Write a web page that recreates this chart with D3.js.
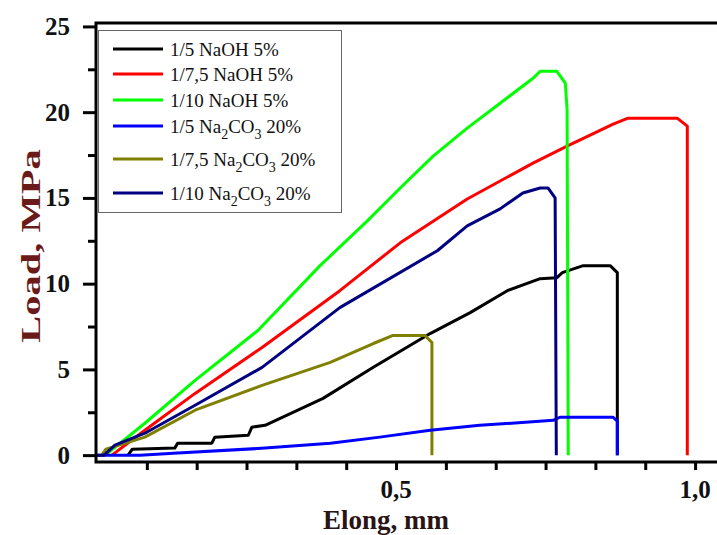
<!DOCTYPE html>
<html>
<head>
<meta charset="utf-8">
<script src="https://cdn.jsdelivr.net/npm/d3@7"></script>
<style>
  body { margin: 0; background: #fff; }
  svg text { font-family: "Liberation Serif", "Times New Roman", serif; }
</style>
</head>
<body>
<svg id="chart" width="717" height="535"></svg>
<script>

// series names (legend order) and colours
var seriesNames  = ["1/5 NaOH 5%", "1/7,5 NaOH 5%", "1/10 NaOH 5%",
		    "1/5 Na2CO3 20%", "1/7,5 Na2CO3 20%", "1/10 Na2CO3 20%"];
var seriesColors = ["#000000", "#ff0000", "#00ff00", "#0000ff", "#808000", "#000080"];

// elongation (mm) / load (MPa)
var naoh5_x  = [0.052, 0.059, 0.130, 0.135, 0.192, 0.197, 0.253, 0.259, 0.281, 0.378, 0.462, 0.557, 0.624, 0.686, 0.741, 0.769, 0.778, 0.813, 0.858, 0.870, 0.870];
var naoh5_y  = [0.00, 0.35, 0.41, 0.70, 0.70, 1.05, 1.16, 1.63, 1.74, 3.31, 5.12, 7.09, 8.31, 9.59, 10.29, 10.35, 10.64, 11.05, 11.05, 10.64, 0.00];

var naoh75_x = [0.025, 0.080, 0.164, 0.276, 0.406, 0.507, 0.619, 0.729, 0.786, 0.863, 0.888, 0.970, 0.987, 0.987];
var naoh75_y = [0.00, 1.45, 3.60, 6.28, 9.59, 12.38, 14.94, 17.03, 18.02, 19.30, 19.65, 19.65, 19.19, 0.00];

var naoh10_x = [0.012, 0.018, 0.080, 0.164, 0.269, 0.373, 0.452, 0.507, 0.562, 0.619, 0.674, 0.729, 0.741, 0.769, 0.783, 0.786, 0.788];
var naoh10_y = [0.00, 0.12, 1.86, 4.36, 7.27, 11.05, 13.66, 15.58, 17.44, 19.07, 20.52, 21.98, 22.38, 22.38, 21.69, 20.17, 0.00];

var na5_x    = [0.000, 0.072, 0.135, 0.281, 0.390, 0.473, 0.557, 0.640, 0.763, 0.774, 0.863, 0.870, 0.870];
var na5_y    = [0.00, 0.00, 0.12, 0.41, 0.70, 1.05, 1.45, 1.74, 2.03, 2.21, 2.21, 1.98, 0.00];

var na75_x   = [0.008, 0.015, 0.080, 0.164, 0.276, 0.390, 0.462, 0.495, 0.548, 0.560, 0.560];
var na75_y   = [0.00, 0.35, 1.05, 2.62, 4.07, 5.41, 6.51, 6.98, 6.98, 6.57, 0.00];

var na10_x   = [0.000, 0.012, 0.030, 0.080, 0.164, 0.276, 0.406, 0.569, 0.619, 0.674, 0.712, 0.741, 0.754, 0.766, 0.768];
var na10_y   = [0.00, 0.00, 0.58, 1.28, 2.91, 5.12, 8.60, 11.92, 13.37, 14.36, 15.29, 15.58, 15.58, 15.00, 0.00];

// axis ticks
var yMajor  = [0, 5, 10, 15, 20, 25];
var yMinor  = [2.5, 7.5, 12.5, 17.5, 22.5];
var xMajor  = [0.5, 1.0];
var xLabels = ["0,5", "1,0"];


function zipSeries(xs, ys) {
    var out = [];
    for(var kk = 0; kk < xs.length; kk++) {
	out.push({x: xs[kk], y: ys[kk]});
    }
    return out;
}

function plot() {

    var svg = d3.select("#chart");

    var left = 96, right = 719, top = 23, bottom = 462;

    var xScale = d3.scaleLinear()
	.domain([0, 1.04])
	.range([97, 719]);
    var yScale = d3.scaleLinear()
	.domain([-0.4, 25.2])
	.range([bottom, top]);

    // minor x ticks: Origin style, 6 sub-intervals per 0,5
    var xTicks = [];
    for(var kk = 1; kk * (0.5 / 6) < 1.04; kk++) {
	xTicks.push(kk * 0.5 / 6);
    }

    var series = [zipSeries(naoh5_x, naoh5_y), zipSeries(naoh75_x, naoh75_y),
		  zipSeries(naoh10_x, naoh10_y), zipSeries(na5_x, na5_y),
		  zipSeries(na75_x, na75_y), zipSeries(na10_x, na10_y)];

    var line = d3.line()
	.x(function(d) { return xScale(d.x); })
	.y(function(d) { return yScale(d.y); });

    var drawOrder = [0, 1, 2, 4, 3, 5];
    svg.append("g")
	.selectAll("path")
	.data(drawOrder)
	.enter()
	.append("path")
	.attr("d", function(i) { return line(series[i]); })
	.attr("fill", "none")
	.attr("stroke", function(i) { return seriesColors[i]; })
	.attr("stroke-width", 3)
	.attr("stroke-linejoin", "round");

    // frame
    svg.append("rect")
	.attr("x", left)
	.attr("y", top)
	.attr("width", right - left)
	.attr("height", bottom - top)
	.attr("fill", "none")
	.attr("stroke", "#000")
	.attr("stroke-width", 3);

    // y axis
    var gy = svg.append("g")
	.attr("transform", "translate(" + left + ",0)")
	.call(d3.axisLeft(yScale)
	      .tickValues(yMajor)
	      .tickSize(13)
	      .tickPadding(13)
	      .tickFormat(d3.format("d")));
    gy.select(".domain").remove();
    gy.selectAll("line").attr("stroke-width", 3);
    gy.selectAll("text")
	.attr("font-size", 25)
	.attr("font-weight", "bold")
	.attr("fill", "#111");

    var gyMinor = svg.append("g")
	.attr("transform", "translate(" + left + ",0)")
	.call(d3.axisLeft(yScale).tickValues(yMinor).tickSize(8).tickFormat(""));
    gyMinor.select(".domain").remove();
    gyMinor.selectAll("line").attr("stroke-width", 3);

    // x axis
    var gx = svg.append("g")
	.attr("transform", "translate(0," + bottom + ")")
	.call(d3.axisBottom(xScale).tickValues(xTicks).tickSize(8).tickFormat(""));
    gx.select(".domain").remove();
    gx.selectAll("line").attr("stroke-width", 3);

    svg.append("g")
	.selectAll("text")
	.data(xMajor)
	.enter()
	.append("text")
	.attr("x", function(d) { return xScale(d); })
	.attr("y", 498)
	.attr("text-anchor", "middle")
	.attr("font-size", 25)
	.attr("font-weight", "bold")
	.attr("fill", "#111")
	.text(function(d, i) { return xLabels[i]; });

    // axis titles
    svg.append("text")
	.attr("x", 386)
	.attr("y", 529)
	.attr("text-anchor", "middle")
	.attr("font-size", 27)
	.attr("font-weight", "bold")
	.attr("fill", "#2a1414")
	.text("Elong, mm");

    // the y title is stretched along its length in the picture
    svg.append("text")
	.attr("transform", "translate(40,246) rotate(-90) scale(1.5,1)")
	.attr("text-anchor", "middle")
	.attr("font-size", 27)
	.attr("font-weight", "bold")
	.attr("fill", "#6b1a1a")
	.text("Load, MPa");

    // legend
    var legendY = [49, 74, 100, 126, 159, 193];
    svg.append("rect")
	.attr("x", 98.5)
	.attr("y", 30.5)
	.attr("width", 243)
	.attr("height", 182)
	.attr("fill", "#fff")
	.attr("stroke", "#666")
	.attr("stroke-width", 1);

    var lg = svg.append("g")
	.selectAll("g")
	.data(seriesNames)
	.enter()
	.append("g")
	.attr("transform", function(d, i) { return "translate(0," + legendY[i] + ")"; });

    lg.append("line")
	.attr("x1", 113)
	.attr("x2", 163)
	.attr("stroke", function(d, i) { return seriesColors[i]; })
	.attr("stroke-width", 3);

    lg.each(function(d) {
	var t = d3.select(this).append("text")
	    .attr("x", 170)
	    .attr("y", 7)
	    .attr("font-size", 19)
	    .attr("fill", "#111");
	var parts = d.split("Na2CO3");
	if (parts.length == 1) {
	    t.text(d);
	    return;
	}
	t.append("tspan").text(parts[0] + "Na");
	t.append("tspan").attr("dy", 6).attr("font-size", 14).text("2");
	t.append("tspan").attr("dy", -6).text("CO");
	t.append("tspan").attr("dy", 6).attr("font-size", 14).text("3");
	t.append("tspan").attr("dy", -6).text(parts[1]);
    });
}

plot();

</script>
</body>
</html>
